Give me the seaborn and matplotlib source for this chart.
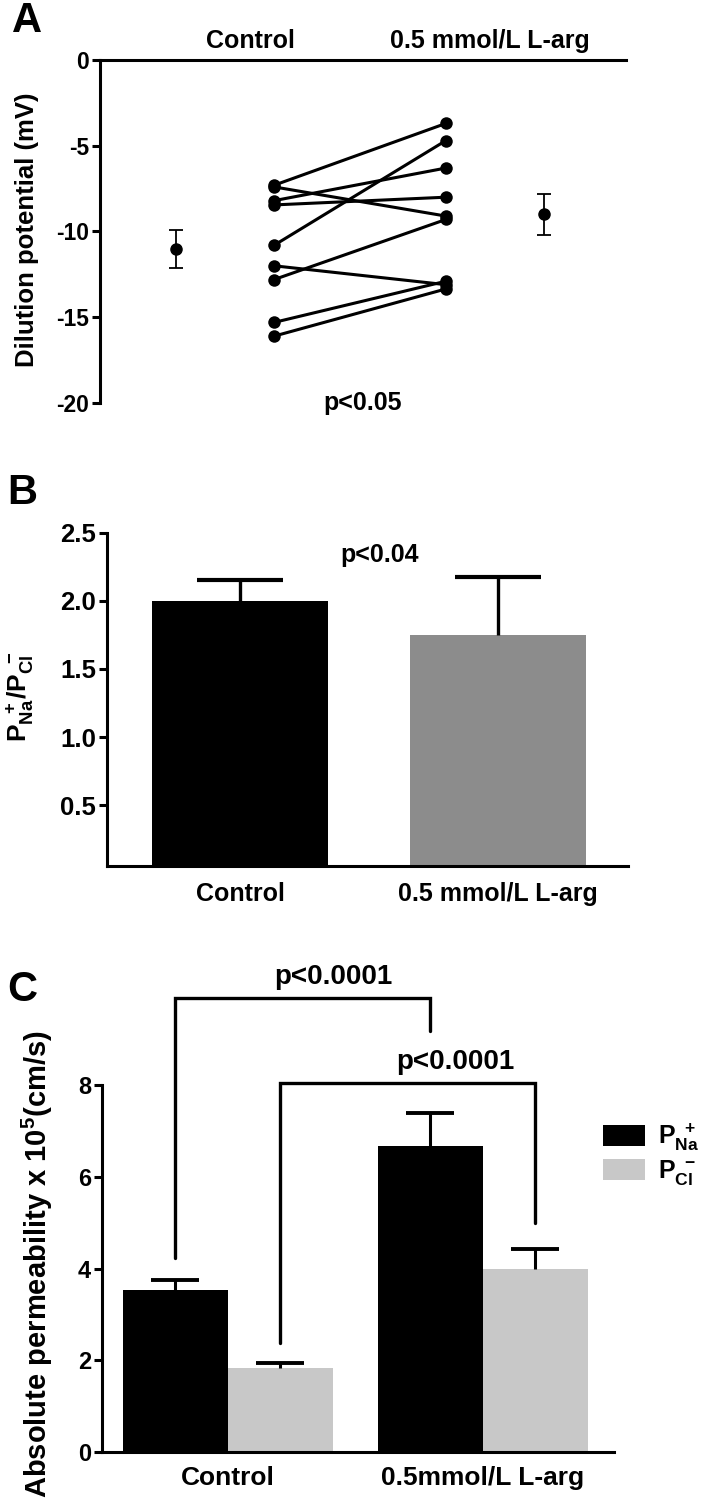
import numpy as np
import pandas as pd
import seaborn as sns
import matplotlib.pyplot as plt

# panel A: paired dilution potentials (mV)
ctrl_mv = [-7.3, -7.4, -8.2, -8.45, -10.8, -12.0, -12.8, -15.3, -16.1]
larg_mv = [-3.7, -9.1, -6.3, -8.0, -4.7, -13.1, -9.3, -12.9, -13.35]
mean_mv = [-11.0, -9.0]
sem_mv = [1.1, 1.2]
groups_a = ['Control', '0.5 mmol/L L-arg']

# panel B: PNa/PCl ratio
groups_b = ['Control', '0.5 mmol/L L-arg']
ratio = [2.0, 1.75]
ratio_err = [0.155, 0.425]

# panel C: absolute permeabilities
groups_c = ['Control', '0.5mmol/L L-arg']
ions = ['Na', 'Cl']
perm_na = [3.53, 6.68]
perm_na_err = [0.21, 0.70]
perm_cl = [1.83, 3.99]
perm_cl_err = [0.10, 0.44]

sns.set_theme(style='ticks')
plt.rcParams['font.family'] = ['Liberation Sans', 'DejaVu Sans']
plt.rcParams['font.weight'] = 'bold'
plt.rcParams['text.color'] = 'black'
plt.rcParams['xtick.color'] = 'black'
plt.rcParams['ytick.color'] = 'black'
plt.rcParams['axes.unicode_minus'] = False
plt.rcParams['mathtext.fontset'] = 'custom'
plt.rcParams['mathtext.rm'] = 'Liberation Sans'
plt.rcParams['mathtext.bf'] = 'Liberation Sans:bold'

W, H = 720, 1502
fig = plt.figure(figsize=(7.2, 15.02), dpi=100)


def px_axes(x0, y0, x1, y1):
    return fig.add_axes([x0 / W, 1 - y1 / H, (x1 - x0) / W, (y1 - y0) / H])


def style_axis(ax, lw=2.2):
    for s in ax.spines.values():
        s.set_linewidth(lw)
        s.set_color('black')
    ax.tick_params(axis='y', width=lw, length=6, color='black', pad=2)


def top_err(ax, bar, e, lw, cap):
    cx = bar.get_x() + bar.get_width() / 2
    h = bar.get_height()
    ax.plot([cx, cx], [h, h + e], color='black', lw=lw, solid_capstyle='butt')
    ax.plot([cx], [h + e], marker='_', ms=cap, mew=lw + 0.6, color='black')
    return cx


# ---------------- A ----------------
axA = px_axes(100, 60, 626, 403)
n = len(ctrl_mv)
dfA = pd.DataFrame({'subject': list(range(n)) * 2,
                    'x': [2.0] * n + [3.75] * n,
                    'mv': ctrl_mv + larg_mv})
sns.lineplot(data=dfA, x='x', y='mv', units='subject', estimator=None,
             color='black', lw=2.2, marker='o', markersize=9,
             markeredgewidth=0, sort=False, ax=axA)
axA.errorbar([1.0, 4.75], mean_mv, yerr=sem_mv, fmt='o', color='black',
             ms=8, capsize=5, elinewidth=1.3, capthick=1.3)
axA.set_xlim(0.224, 5.587)
axA.set_ylim(-20, 0)
axA.set_yticks([0, -5, -10, -15, -20])
axA.set_xlabel('')
axA.set_ylabel('')
sns.despine(ax=axA, top=False, right=True, bottom=True)
style_axis(axA)
axA.xaxis.tick_top()
axA.set_xticks([1.755, 4.2], groups_a)
axA.tick_params(axis='x', length=0, pad=5, labelsize=18)
axA.tick_params(axis='y', labelsize=16.5)
axA.text(2.9, -20, 'p<0.05', ha='center', va='center', fontsize=18,
         clip_on=False)
fig.text(27 / W, 1 - 230 / H, 'Dilution potential (mV)', rotation=90,
         ha='center', va='center', fontsize=18.5)

# ---------------- B ----------------
axB = px_axes(107, 532.7, 628, 865.7)
dfB = pd.DataFrame({'group': groups_b, 'ratio': ratio})
sns.barplot(data=dfB, x='group', y='ratio', hue='group',
            palette=['black', '#8c8c8c'], width=0.68, errorbar=None,
            saturation=1, linewidth=0, legend=False, ax=axB)
for bar, e in zip(axB.patches, ratio_err):
    top_err(axB, bar, e, 2.4, 62)
axB.set_xlim(-0.516, 1.504)
axB.set_ylim(0.056, 2.5)
axB.set_yticks([0.5, 1.0, 1.5, 2.0, 2.5], ['0.5', '1.0', '1.5', '2.0', '2.5'])
axB.set_xlabel('')
axB.set_ylabel('')
sns.despine(ax=axB)
style_axis(axB)
axB.tick_params(axis='x', length=0, pad=12, labelsize=18)
axB.tick_params(axis='y', labelsize=18.5)
axB.text(0.54, 2.34, 'p<0.04', ha='center', va='center', fontsize=18)
fig.text(20 / W, 1 - 697 / H, r'$\mathbf{P_{Na}^{\ +}/P_{Cl}^{\ -}}$',
         rotation=90, ha='center', va='center', fontsize=19)

# ---------------- C ----------------
axC = px_axes(102, 1085, 614, 1452)
dfC = pd.DataFrame({'group': groups_c * 2,
                    'ion': [ions[0]] * 2 + [ions[1]] * 2,
                    'perm': perm_na + perm_cl})
sns.barplot(data=dfC, x='group', y='perm', hue='ion',
            palette=['black', '#c8c8c8'], width=0.824, gap=0, errorbar=None,
            saturation=1, linewidth=0, ax=axC)
centers = []
for cont, errs in zip(axC.containers, [perm_na_err, perm_cl_err]):
    centers.append([top_err(axC, bar, e, 2.2, 35) for bar, e in zip(cont, errs)])
axC.set_xlim(-0.494, 1.514)
axC.set_ylim(0, 8)
axC.set_yticks([0, 2, 4, 6, 8])
axC.set_xlabel('')
axC.set_ylabel('')
sns.despine(ax=axC)
style_axis(axC)
axC.tick_params(axis='x', length=0, pad=10, labelsize=19)
axC.tick_params(axis='y', labelsize=17)

# significance brackets
na_x, cl_x = centers
axC.plot([na_x[0], na_x[0], na_x[1], na_x[1]], [4.22, 9.9, 9.9, 9.18],
         color='black', lw=2.4, clip_on=False, solid_joinstyle='miter')
axC.plot([cl_x[0], cl_x[0], cl_x[1], cl_x[1]], [2.37, 8.05, 8.05, 5.0],
         color='black', lw=2.4, clip_on=False, solid_joinstyle='miter')
axC.text(0.415, 10.35, 'p<0.0001', ha='center', va='center', fontsize=20,
         clip_on=False)
axC.text(0.89, 8.5, 'p<0.0001', ha='center', va='center', fontsize=20,
         clip_on=False)

h, _ = axC.get_legend_handles_labels()
axC.legend(h, [r'$\mathrm{P_{Na}^{\ +}}$', r'$\mathrm{P_{Cl}^{\ -}}$'],
           loc='upper left', bbox_to_anchor=(0.978, 0.9), frameon=False,
           prop={'size': 18, 'weight': 'normal'}, handlelength=1.7,
           handleheight=0.9, handletextpad=0.5, borderpad=0,
           borderaxespad=0, labelspacing=0.2)
fig.text(37 / W, 1 - 1030 / H,
         'Absolute permeability x ' + r'$\mathbf{10^{5}}$' + '(cm/s)',
         rotation=90, ha='center', va='top', fontsize=21)

# panel letters
fig.text(27 / W, 1 - 21 / H, 'A', ha='center', va='center', fontsize=30)
fig.text(22 / W, 1 - 493 / H, 'B', ha='center', va='center', fontsize=30)
fig.text(22 / W, 1 - 990 / H, 'C', ha='center', va='center', fontsize=30)

fig.savefig('out.png', dpi=100)
